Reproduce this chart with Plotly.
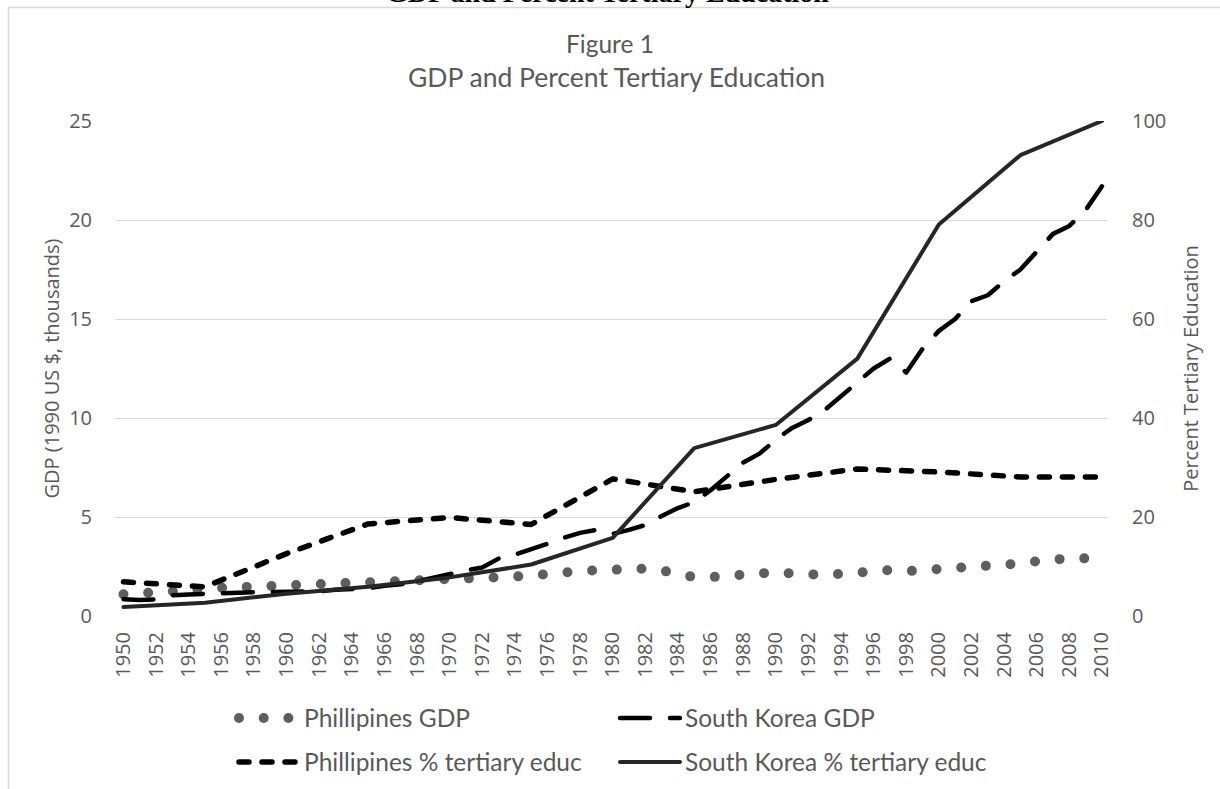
import plotly.graph_objects as go

# ---------------- data ----------------
gdp_years = list(range(1950, 2011))
phil_gdp = [1.10, 1.13, 1.16, 1.20, 1.27, 1.35, 1.42, 1.45, 1.46, 1.50,
            1.53, 1.55, 1.57, 1.59, 1.61, 1.63, 1.65, 1.68, 1.71, 1.75,
            1.78, 1.83, 1.87, 1.95, 1.99, 2.05, 2.16, 2.21, 2.26, 2.31,
            2.37, 2.39, 2.39, 2.30, 2.12, 1.96, 1.96, 2.02, 2.10, 2.19,
            2.21, 2.14, 2.08, 2.08, 2.13, 2.20, 2.26, 2.32, 2.26, 2.30,
            2.37, 2.37, 2.42, 2.50, 2.58, 2.65, 2.76, 2.86, 2.92, 2.91,
            2.97]
korea_gdp = [0.85, 0.81, 0.84, 1.05, 1.09, 1.13, 1.12, 1.17, 1.20, 1.21,
             1.21, 1.23, 1.25, 1.32, 1.36, 1.40, 1.53, 1.60, 1.75, 1.95,
             2.15, 2.30, 2.45, 2.90, 3.10, 3.35, 3.65, 3.95, 4.20, 4.35,
             4.15, 4.35, 4.60, 5.05, 5.45, 5.75, 6.35, 7.05, 7.75, 8.20,
             8.90, 9.50, 9.90, 10.40, 11.10, 11.85, 12.50, 13.00, 12.30, 13.50,
             14.40, 15.00, 15.90, 16.20, 16.90, 17.50, 18.40, 19.30, 19.70, 20.50,
             21.70]

educ_years = [1950, 1955, 1960, 1965, 1970, 1975, 1980, 1985, 1990, 1995, 2000, 2005, 2010]
phil_tert = [6.9, 5.9, 12.6, 18.6, 19.9, 18.5, 27.7, 25.1, 27.6, 29.7, 29.1, 28.1, 28.1]
korea_tert = [1.8, 2.7, 4.5, 5.9, 7.8, 10.4, 15.8, 33.9, 38.6, 52.0, 79.1, 93.1, 100.0]

tick_years = list(range(1950, 2011, 2))
tick_labels = [str(y) for y in tick_years]

series_names = ["Phillipines GDP", "South Korea GDP",
                "Phillipines % tertiary educ", "South Korea % tertiary educ"]

# ---------------- figure ----------------
W, H = 1220, 789
ML, MR, MT, MB = 115, 113, 121, 173
PW, PH = W - ML - MR, H - MT - MB


def px_x(p):
    return (p - ML) / PW


def px_y(p):
    return (H - MB - p) / PH


def cont_y(p):
    return 1 - p / H


grey = "#595959"
fig = go.Figure()

fig.add_trace(go.Scatter(
    x=gdp_years, y=phil_gdp, name=series_names[0], mode="lines",
    line=dict(color="#5e5e5e", width=10, dash="0px,24.7px"),
    legend="legend"))
fig.add_trace(go.Scatter(
    x=gdp_years, y=korea_gdp, name=series_names[1], mode="lines",
    line=dict(color="#000000", width=4.5, dash="30px,20px"),
    legend="legend"))
fig.add_trace(go.Scatter(
    x=educ_years, y=phil_tert, name=series_names[2], mode="lines",
    line=dict(color="#000000", width=5.5, dash="10px,13px"),
    yaxis="y2", legend="legend2"))
fig.add_trace(go.Scatter(
    x=educ_years, y=korea_tert, name=series_names[3], mode="lines",
    line=dict(color="#262626", width=4),
    yaxis="y2", legend="legend2"))

tickfont = dict(family="Open Sans", size=20, color=grey)
legfont = dict(family="Lato", size=24.5, color=grey)
axtitlefont = dict(family="Open Sans", size=20, color=grey)

fig.update_layout(
    width=W, height=H,
    margin=dict(l=ML, r=MR, t=MT, b=MB, pad=0, autoexpand=False),
    paper_bgcolor="white", plot_bgcolor="white",
    showlegend=True,
    xaxis=dict(range=[1949.48, 2010.31], tickmode="array",
               tickvals=tick_years, ticktext=tick_labels, tickangle=-90,
               tickfont=tickfont, showgrid=False, zeroline=False,
               showline=False, ticks="", ticklabelstandoff=11, automargin=False),
    yaxis=dict(range=[0, 25], tickvals=[0, 5, 10, 15, 20, 25],
               tickfont=tickfont, showgrid=True, gridcolor="#d9d9d9",
               gridwidth=1.3, zeroline=False, showline=False, ticks="",
               ticklabelstandoff=22, automargin=False,
               title=dict(text="GDP (1990 US $, thousands)",
                          font=axtitlefont, standoff=4)),
    yaxis2=dict(range=[0, 100], tickvals=[0, 20, 40, 60, 80, 100],
                overlaying="y", side="right", tickfont=tickfont,
                showgrid=False, zeroline=False, showline=False, ticks="",
                ticklabelstandoff=24, automargin=False,
                title=dict(text="Percent Tertiary Education",
                           font=axtitlefont, standoff=18)),
    legend=dict(orientation="h", x=px_x(234), y=cont_y(718), yref="container",
                xanchor="left", yanchor="middle", font=legfont,
                itemwidth=60, entrywidth=306, entrywidthmode="pixels",
                bgcolor="rgba(0,0,0,0)", itemclick=False),
    legend2=dict(orientation="h", x=px_x(234), y=cont_y(762), yref="container",
                 xanchor="left", yanchor="middle", font=legfont,
                 itemwidth=60, entrywidth=306, entrywidthmode="pixels",
                 bgcolor="rgba(0,0,0,0)", itemclick=False),
)

# titles
fig.add_annotation(text="Figure 1", xref="paper", yref="paper",
                   x=px_x(610), y=px_y(43), xanchor="center", yanchor="middle",
                   showarrow=False, font=dict(family="Lato", size=24.5, color=grey))
fig.add_annotation(text="GDP and Percent Tertiary Education", xref="paper", yref="paper",
                   x=px_x(616), y=px_y(77), xanchor="center", yanchor="middle",
                   showarrow=False, font=dict(family="Lato", size=26.5, color=grey))
# cut-off document heading above the chart frame
fig.add_annotation(text="<b>GDP and Percent Tertiary Education</b>", xref="paper", yref="paper",
                   x=px_x(607), y=px_y(-7), xanchor="center", yanchor="middle",
                   showarrow=False, font=dict(family="Liberation Serif", size=28, color="black"))

# chart frame
fig.add_shape(type="rect", xref="paper", yref="paper",
              x0=px_x(8.5), x1=px_x(1300), y0=px_y(900), y1=px_y(7.5),
              line=dict(color="#d9d9d9", width=1.5), fillcolor="rgba(0,0,0,0)",
              layer="below")

post = """
var st = document.createElement('style');
st.innerHTML = '.scatterlayer path.js-line, .legend path.js-line, g.legendlines path {stroke-linecap: round; stroke-linejoin: round;}';
document.head.appendChild(st);
"""

fig.write_html("out.html", post_script=post, config={"displayModeBar": False})
